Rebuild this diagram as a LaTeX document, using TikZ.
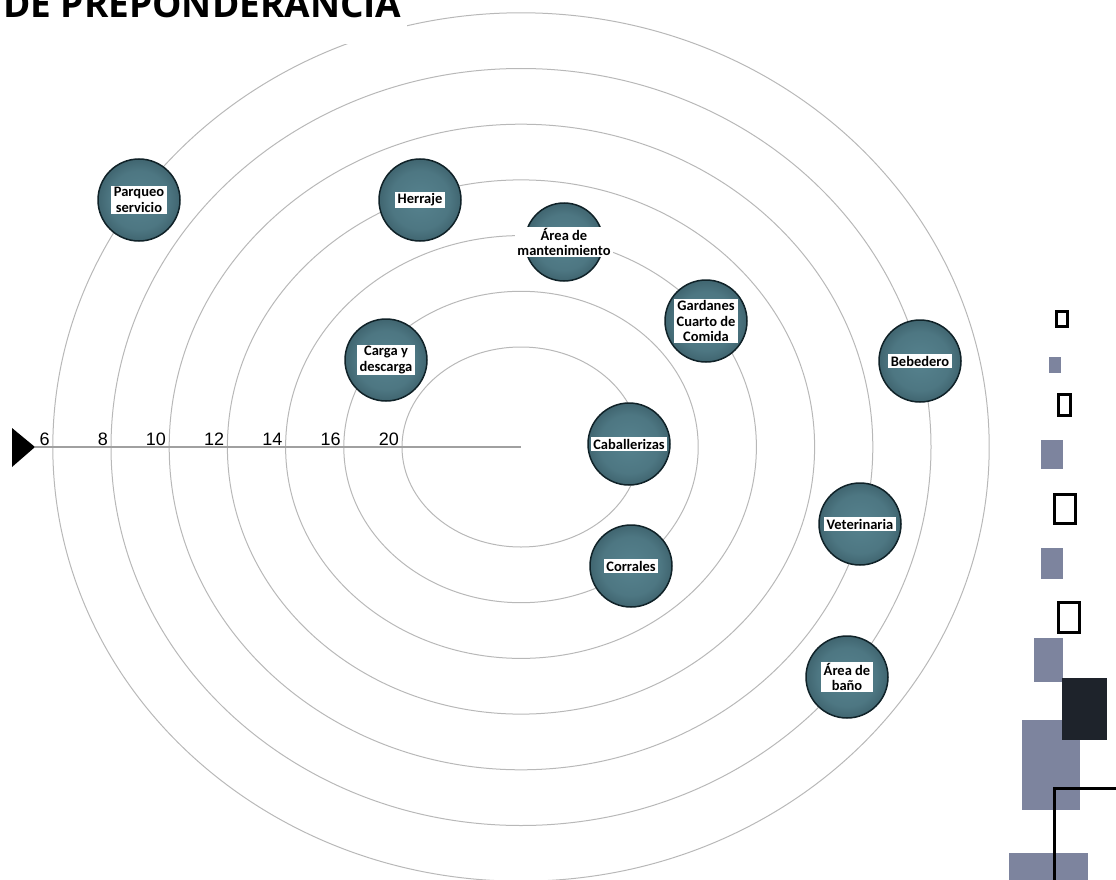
\documentclass[tikz,border=0pt]{standalone}
\usepackage{fontspec}
\setmainfont{Liberation Sans}
\newfontfamily\labelfont{Carlito}
\newfontfamily\titlefont{Open Sans}
\usepackage{tikz}
\usetikzlibrary{positioning}
\definecolor{ringgray}{RGB}{184,184,184}
\definecolor{axisgray}{RGB}{160,160,160}
\definecolor{ballin}{RGB}{86,130,142}
\definecolor{ballout}{RGB}{28,54,63}
\definecolor{ballrim}{RGB}{16,34,40}
\definecolor{slate}{RGB}{125,132,158}
\definecolor{inkdark}{RGB}{30,35,43}
\pgfdeclareradialshading{ballshade}{\pgfpoint{0bp}{0bp}}{%
  color(0bp)=(ballin); color(18bp)=(ballin!85!ballout);
  color(44bp)=(ballout); color(50bp)=(ballout); color(60bp)=(ballout)}
\tikzset{
  ring/.style={draw=ringgray, line width=1pt},
  axisline/.style={draw=axisgray, line width=1.2pt},
  axislbl/.style={font=\fontsize{18}{20}\selectfont, inner sep=0pt},
  zone/.style={circle, minimum size=82pt, inner sep=0pt,
    draw=ballrim, line width=1.5pt, shading=ballshade},
  tagbox/.style={fill=white, inner xsep=2.5pt, inner ysep=1.5pt,
    align=center, font=\labelfont\bfseries\fontsize{14.5}{15.5}\selectfont},
  titletext/.style={font=\titlefont\bfseries\fontsize{37}{40}\selectfont,
    inner sep=0pt},
  slatebox/.style={fill=slate},
  darkbox/.style={fill=inkdark},
  hollowbox/.style={draw=black, line width=3pt}
}

\begin{document}
\begin{tikzpicture}[x=1pt, y=-1pt]
  \useasboundingbox (0,0) rectangle (1116,880);

  % Rings around the centre
  \coordinate (ctr) at (521,447);
  \foreach \k in {0,...,6}
    \draw[ring] (ctr) ellipse [x radius={119+58.2*\k}, y radius={100+55.7*\k}];

  % Title
  \fill[white] (0,0) rectangle (407,44);
  \node[titletext, anchor=base west] (title) at (3,18) {DE PREPONDERANCIA};

  % Scale axis
  \coordinate (axstart) at (35,447);
  \draw[axisline] (axstart) -- (ctr);
  \fill (axstart) -- ++(-23,-19) -- ++(0,39) -- cycle;
  \foreach \k/\d in {0/20,1/16,2/14,3/12,4/10,5/8,6/6}
    \node[axislbl, anchor=base east] (d\d) at ({518-119-58.2*\k},445) {\d};

  % Zones
  \node[zone] (parqueo) at (139,200) {};
  \node[tagbox] (parqueo-t) at (parqueo) {Parqueo\\servicio};
  \node[zone] (herraje) at (420,200) {};
  \node[tagbox] (herraje-t) at (herraje) {Herraje};
  \node[zone, minimum size=78pt] (mant) at (564,242) {};
  \node[tagbox] (mant-t) at (mant) {Área de\\mantenimiento};
  \node[zone] (gardanes) at (706,321) {};
  \node[tagbox] (gardanes-t) at (gardanes) {Gardanes\\Cuarto de\\Comida};
  \node[zone] (carga) at (386,360) {};
  \node[tagbox] (carga-t) at (carga) {Carga y\\descarga};
  \node[zone] (bebedero) at (920,361) {};
  \node[tagbox] (bebedero-t) at (bebedero) {Bebedero};
  \node[zone] (caball) at (629,444) {};
  \node[tagbox] (caball-t) at (caball) {Caballerizas};
  \node[zone] (veter) at (860,524) {};
  \node[tagbox] (veter-t) at (veter) {Veterinaria};
  \node[zone] (corrales) at (631,566) {};
  \node[tagbox] (corrales-t) at (corrales) {Corrales};
  \node[zone] (bano) at (847,677) {};
  \node[tagbox] (bano-t) at (bano) {Área de\\baño};

  % Side ornament
  \fill[slatebox] (1049,357) rectangle (1061,373);
  \fill[slatebox] (1041,440) rectangle (1063,469);
  \fill[slatebox] (1041,548) rectangle (1063,579);
  \fill[slatebox] (1034,638) rectangle (1063,682);
  \fill[slatebox] (1022,720) rectangle (1080,810);
  \fill[slatebox] (1009,853) rectangle (1088,880);
  \fill[darkbox] (1062,678) rectangle (1107,740);
  \draw[hollowbox] (1056.5,311.5) rectangle (1067.5,326.5);
  \draw[hollowbox] (1058.5,394.5) rectangle (1070.5,415.5);
  \draw[hollowbox] (1054.5,494.5) rectangle (1075.5,523.5);
  \draw[hollowbox] (1058.5,602.5) rectangle (1079.5,632.5);
  \draw[hollowbox] (1054,880) -- (1054,788) -- (1116,788);
\end{tikzpicture}
\end{document}
